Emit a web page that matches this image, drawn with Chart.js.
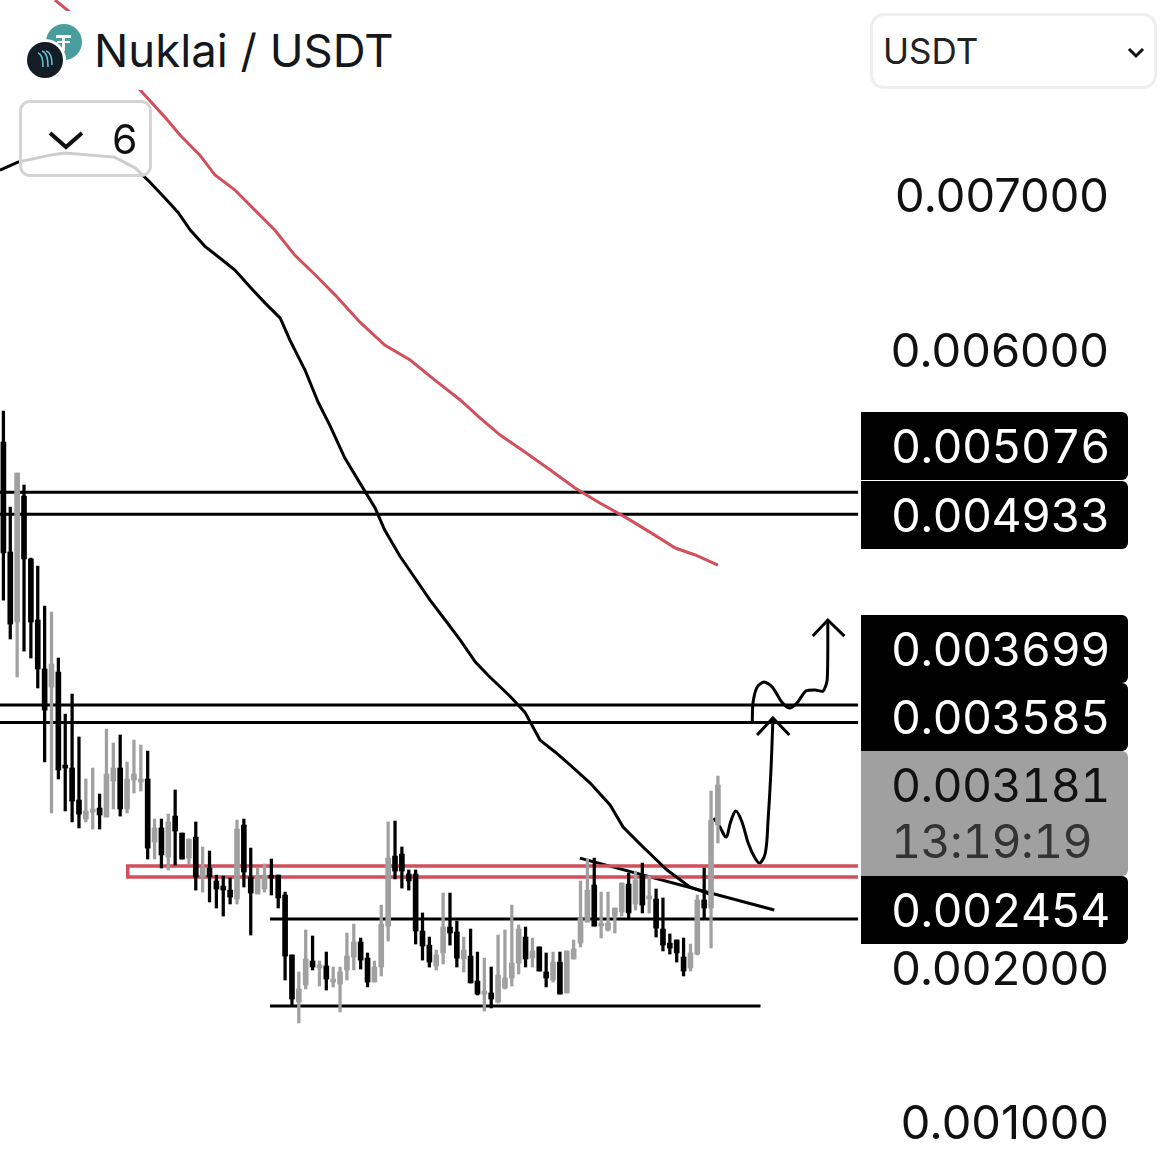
<!DOCTYPE html>
<html>
<head>
<meta charset="utf-8">
<title>Nuklai / USDT</title>
<script src="https://cdn.jsdelivr.net/npm/chart.js@4/dist/chart.umd.min.js"></script>
<style>
  html, body { margin: 0; padding: 0; background: #fff; }
  body { width: 1170px; height: 1158px; position: relative; overflow: hidden; font-family: Inter, "Noto Sans", sans-serif; color: #111; }
  #wrap { position: absolute; left: 0; top: 0; width: 1170px; height: 1158px; }
  #header { position: absolute; left: 0; top: 11px; width: 430px; height: 79px; background: #fff; }
  #title { position: absolute; left: 94px; top: 10px; font-size: 45.5px; line-height: 60px; white-space: nowrap; color: #14171c; }
  #header svg { position: absolute; left: 0; top: -11px; }
  #pair { position: absolute; left: 870px; top: 13px; width: 281px; height: 70px; border: 3px solid #eee; border-radius: 14px; background: #fff; }
  #pair span { position: absolute; left: 10px; top: 13px; font-size: 35px; line-height: 44px; color: #222; }
  #pair svg { position: absolute; left: 253px; top: 30px; }
  #toggle { position: absolute; left: 19px; top: 100px; width: 127px; height: 71px; border: 3px solid #d4d4d4; border-radius: 11px; background: rgba(255,255,255,.8); }
  #toggle span { position: absolute; left: 90px; top: 11px; font-size: 41px; line-height: 50px; color: #111; }
  #toggle svg { position: absolute; left: 26px; top: 27px; }
  .tag { position: absolute; left: 861px; width: 267px; background: #000; color: #fff; border-radius: 0 6px 6px 0; font-size: 46.5px; letter-spacing: -0.6px; line-height: 68px; font-variant-numeric: tabular-nums; }
  .tag span { position: absolute; left: 30px; white-space: nowrap; }
  .tag.last { background: #a0a0a0; color: #111; }
  .tag.last .cd { color: #333; }
</style>
</head>
<body>
<div id="wrap"><canvas id="chart" width="1170" height="1158"></canvas></div>

<div id="header">
  <svg width="90" height="90" viewBox="0 0 90 90">
    <circle cx="64" cy="42" r="18" fill="#4a9d9d"/>
    <path d="M56 35h15v3h-6v3h5v2h-5v8h-3v-8h-5v-2h5v-3h-6z" fill="#fff"/>
    <circle cx="45" cy="60" r="21" fill="#fff"/>
    <circle cx="45" cy="60" r="18" fill="#141c26"/>
    <path d="M38 53c4 1 5 6 5 14M42 51c4 1 6 7 6 16M46 51c4 1 6 7 6 14" fill="none" stroke="#62c3cf" stroke-width="1.6"/>
  </svg>
  <div id="title">Nuklai / USDT</div>
</div>

<div id="pair">
  <span>USDT</span>
  <svg width="20" height="14" viewBox="0 0 20 14"><path d="M3 3l7 7 7-7" fill="none" stroke="#111" stroke-width="3"/></svg>
</div>

<div id="toggle">
  <svg width="36" height="22" viewBox="0 0 36 22"><path d="M2 3l16 14 16-14" fill="none" stroke="#111" stroke-width="4"/></svg>
  <span>6</span>
</div>

<div class="tag" style="top:412px;height:68px"><span>0.005076</span></div>
<div class="tag" style="top:481px;height:68px"><span>0.004933</span></div>
<div class="tag" style="top:615px;height:68px"><span>0.003699</span></div>
<div class="tag" style="top:683px;height:68px"><span>0.003585</span></div>
<div class="tag last" style="top:751px;height:125px"><span style="top:0">0.003181</span><span class="cd" style="top:56px">13:19:19</span></div>
<div class="tag" style="top:876px;height:68px"><span>0.002454</span></div>

<script>
// prices are in millionths of USDT
const tickValues = [1000, 2000, 6000, 7000];

const candleOpen = [
  5401, 4689, 4236, 5051, 4644, 4249, 3932, 3815, 3912, 3310, 3291, 3084, 2961, 3006, 3032,
  2974, 3207, 3291, 3026, 3213, 3200, 3220, 2812, 2903, 2715, 2980, 2870, 2708, 2844, 2586,
  2644, 2560, 2527, 2501, 2443, 2922, 2586, 2476, 2508, 2598, 2598, 2469, 2081, 1777, 1887,
  2042, 1997, 2010, 1906, 1893, 1984, 2068, 2165, 2061, 1906, 2003, 2268, 2721, 2734, 2605,
  2605, 2236, 2145, 2010, 2094, 2262, 2230, 2055, 2074, 1912, 1828, 1835, 1777, 1867, 1932,
  2029, 2197, 2061, 2133, 1971, 1919, 2035, 1835, 2055, 2158, 2294, 2534, 2268, 2243, 2333,
  2359, 2540, 2411, 2598, 2443, 2443, 2249, 2158, 2178, 2068, 1997, 2087, 2437, 2385, 2922
];
const candleHigh = [
  5602, 4980, 5200, 5123, 4650, 4598, 4339, 4301, 4003, 3640, 3770, 3492, 3220, 3291, 3123,
  3543, 3453, 3505, 3330, 3472, 3440, 3401, 2961, 2961, 2993, 3149, 2870, 2831, 2942, 2780,
  2754, 2598, 2592, 2579, 2954, 2961, 2773, 2644, 2670, 2702, 2598, 2488, 2081, 1971, 2243,
  2204, 2042, 2100, 2003, 2003, 2223, 2281, 2191, 2094, 2042, 2404, 2942, 2948, 2780, 2631,
  2631, 2353, 2197, 2113, 2482, 2482, 2301, 2197, 2249, 2100, 2061, 2003, 2210, 2243, 2404,
  2275, 2262, 2191, 2133, 2094, 2100, 2100, 2107, 2178, 2560, 2702, 2708, 2488, 2488, 2385,
  2547, 2611, 2624, 2676, 2592, 2508, 2450, 2217, 2178, 2191, 2152, 2469, 2644, 3142, 3239
];
const candleLow = [
  4378, 4126, 3880, 4048, 4003, 3809, 3330, 3000, 3220, 3013, 2942, 2903, 2942, 2896, 2896,
  2974, 3026, 2980, 3000, 3129, 3142, 2702, 2702, 2644, 2631, 2663, 2702, 2670, 2501, 2488,
  2424, 2385, 2333, 2411, 2411, 2521, 2210, 2476, 2488, 2469, 2385, 1919, 1751, 1641, 1861,
  1984, 1880, 1854, 1874, 1712, 1919, 1984, 1990, 1874, 1906, 1945, 2171, 2573, 2514, 2501,
  2152, 2048, 2003, 1984, 2023, 2145, 2003, 1971, 1900, 1822, 1718, 1738, 1770, 1861, 1880,
  1958, 2003, 2003, 1977, 1874, 1906, 1828, 1835, 2055, 2133, 2294, 2268, 2191, 2236, 2223,
  2333, 2320, 2372, 2353, 2353, 2197, 2107, 2087, 2035, 1945, 1977, 2081, 2314, 2126, 2806
];
const candleClose = [
  4683, 4223, 5200, 4644, 4236, 3932, 3666, 3964, 3278, 3291, 3077, 2993, 3013, 3026, 2987,
  3252, 3291, 3026, 3220, 3252, 3220, 2773, 2903, 2728, 2942, 2883, 2702, 2831, 2586, 2644,
  2586, 2508, 2501, 2456, 2896, 2618, 2482, 2586, 2598, 2579, 2450, 2074, 1796, 1861, 2055,
  2003, 2016, 1925, 1925, 1971, 2074, 2165, 2048, 1906, 2003, 2281, 2708, 2624, 2624, 2560,
  2236, 2139, 2035, 2081, 2262, 2223, 2061, 2113, 1900, 1828, 1848, 1796, 1951, 1932, 2029,
  2249, 2055, 2107, 1977, 1932, 2035, 1828, 2107, 2120, 2320, 2501, 2268, 2288, 2288, 2385,
  2547, 2353, 2566, 2404, 2463, 2255, 2145, 2126, 2094, 1977, 2094, 2437, 2385, 2954, 3181
];

// moving averages, x is the candle index
const slowMaX = [7.5, 9.5, 19.9, 23.5, 25.7, 28.6, 30.8, 33.7, 36.6, 39.5, 42.4, 45.4, 48.3, 51.9, 55.5, 59.2, 62.8, 66.5, 69.4, 72.3, 75.9, 79.6, 83.2, 86.8, 90.5, 94.1, 97.8, 100.7, 104];
const slowMaY = [8262, 8190, 7679, 7504, 7388, 7258, 7129, 7032, 6902, 6773, 6611, 6482, 6352, 6177, 6029, 5932, 5802, 5673, 5556, 5446, 5336, 5220, 5103, 5006, 4915, 4818, 4715, 4670, 4605];
const fastMaX = [-0.5, 2.1, 6.8, 9, 16.2, 19.2, 21.3, 23.5, 25.4, 27.2, 29.3, 31.5, 33.7, 35.9, 38.1, 40.3, 41.7, 43.9, 45.8, 47.5, 49.7, 51.9, 54.1, 55.5, 57.7, 59.9, 62.1, 64.3, 66.5, 68.7, 70.8, 73.7, 75.9, 78.1, 80.3, 82, 85.4, 88.3, 90.2, 93.1, 96.6, 99.9, 102.4, 103.1];
const fastMaY = [7161, 7213, 7258, 7271, 7245, 7174, 7084, 6980, 6889, 6773, 6669, 6592, 6514, 6404, 6300, 6203, 6061, 5867, 5660, 5511, 5297, 5135, 4974, 4831, 4663, 4521, 4378, 4249, 4119, 3977, 3880, 3757, 3653, 3472, 3395, 3330, 3194, 3052, 2909, 2780, 2631, 2521, 2482, 2469];

// drawn levels
const resistanceLevels = [5076, 4933, 3699, 3585];
const supportLevels = [2314, 1751];
const supportEnds = [124.4, 110.2];
const zoneTop = 2657;
const zoneBottom = 2586;
const zoneX = [124.4, 18.1, 18.1, 124.4];
const levelStart = -0.5;
const levelEnd = 124.4;
const supportStart = 38.8;
const trendX = [83.9, 112.2];
const trendY = [2708, 2372];

// hand drawn arrows
const firstPathX = [103.4, 104.3, 105.2, 105.8, 106.6, 107.5, 108.4, 109.4, 110.1, 110.9, 111.3, 111.7, 112];
const firstPathY = [2967, 2909, 2844, 2935, 3013, 2942, 2806, 2708, 2676, 2741, 2954, 3259, 3602];
const firstHeadX = [109.7, 112, 114.4];
const firstHeadY = [3505, 3615, 3505];
const secondPathX = [109, 109.1, 109.7, 110.7, 111.9, 113.3, 114.4, 115.5, 116.8, 118.2, 119.3, 119.9, 120];
const secondPathY = [3589, 3712, 3815, 3848, 3815, 3718, 3679, 3712, 3789, 3796, 3789, 3861, 4249];
const secondHeadX = [117.8, 120, 122.4];
const secondHeadY = [4145, 4249, 4145];

const GRIS = '#a0a0a0';
const NEGRO = '#000000';
const ROJO = '#d0505c';

function toPoints(xs, ys) {
    return xs.map((x, i) => ({ x: x, y: ys[i] }));
}

function lineDataset(points, color, width, tension) {
    return {
        type: 'line',
        data: points,
        borderColor: color,
        borderWidth: width,
        pointRadius: 0,
        tension: tension || 0,
        fill: false,
        order: 5
    };
}

const candleColors = candleOpen.map((o, i) => candleClose[i] >= o ? GRIS : NEGRO);

const datasets = [
    // bodies and wicks stay on top of every line
    {
        type: 'bar',
        data: candleOpen.map((o, i) => ({ x: i, y: [Math.min(o, candleClose[i]), Math.max(o, candleClose[i])] })),
        backgroundColor: candleColors,
        barThickness: 5,
        grouped: false,
        order: 1
    },
    {
        type: 'bar',
        data: candleHigh.map((h, i) => ({ x: i, y: [candleLow[i], h] })),
        backgroundColor: candleColors,
        barThickness: 2.6,
        grouped: false,
        order: 2
    },
    lineDataset(toPoints(slowMaX, slowMaY), ROJO, 3),
    lineDataset(toPoints(fastMaX, fastMaY), NEGRO, 3),
    lineDataset(toPoints(zoneX, [zoneTop, zoneTop, zoneBottom, zoneBottom]), ROJO, 3.5),
    lineDataset(toPoints(trendX, trendY), NEGRO, 3),
    lineDataset(toPoints(firstPathX, firstPathY), NEGRO, 3, 0.35),
    lineDataset(toPoints(firstHeadX, firstHeadY), NEGRO, 3),
    lineDataset(toPoints(secondPathX, secondPathY), NEGRO, 3, 0.25),
    lineDataset(toPoints(secondHeadX, secondHeadY), NEGRO, 3)
];

resistanceLevels.forEach(v => {
    datasets.push(lineDataset(toPoints([levelStart, levelEnd], [v, v]), NEGRO, 3));
});
supportLevels.forEach((v, i) => {
    datasets.push(lineDataset(toPoints([supportStart, supportEnds[i]], [v, v]), NEGRO, 3));
});

new Chart(document.getElementById('chart').getContext('2d'), {
    data: { datasets: datasets },
    options: {
        responsive: false,
        animation: false,
        layout: { padding: 0 },
        plugins: { legend: { display: false }, tooltip: { enabled: false } },
        scales: {
            x: { type: 'linear', min: -0.495, max: 169.8, display: false, offset: false },
            y: {
                type: 'linear',
                position: 'right',
                min: 767,
                max: 8262,
                grid: { display: false, drawTicks: false },
                border: { display: false },
                afterBuildTicks: s => { s.ticks = tickValues.map(v => ({ value: v })); },
                afterFit: s => {
                    s.paddingTop = 0;
                    s.paddingBottom = 0;
                    s.paddingLeft = 0;
                    s.paddingRight = 0;
                    s.width = 0;
                },
                ticks: {
                    mirror: true,
                    padding: -61,
                    labelOffset: 3,
                    color: '#111',
                    font: { family: 'Inter', size: 47 },
                    callback: v => (v / 1e6).toFixed(6)
                }
            }
        }
    }
});
</script>
</body>
</html>
